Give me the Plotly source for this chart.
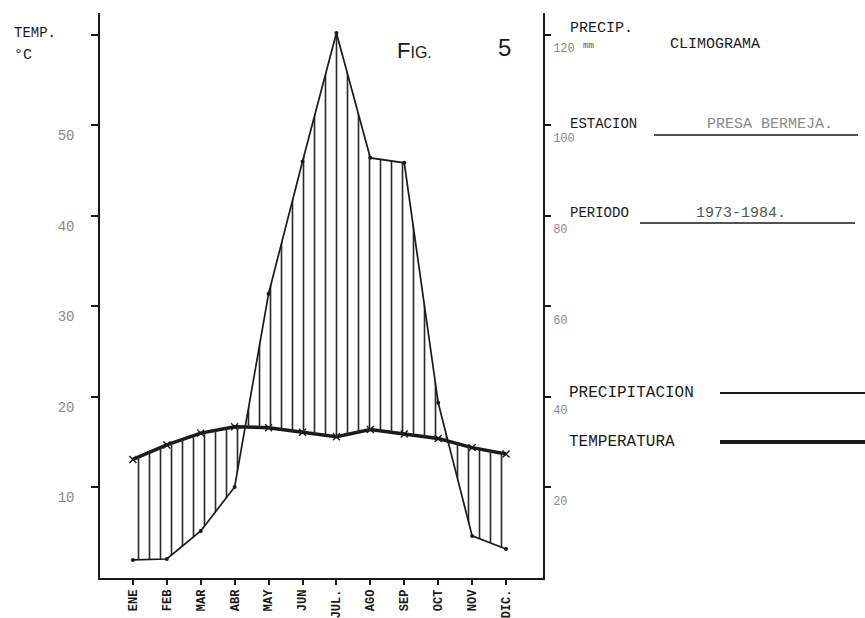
import plotly.graph_objects as go

# ---- data ----
months = ["ENE", "FEB", "MAR", "ABR", "MAY", "JUN", "JUL.", "AGO", "SEP", "OCT", "NOV", "DIC."]
temperature_c = [13.1, 14.7, 16.0, 16.7, 16.6, 16.1, 15.6, 16.4, 15.9, 15.4, 14.4, 13.7]
precip_mm = [4.0, 4.2, 10.4, 20.1, 62.8, 92.0, 120.4, 92.8, 91.7, 38.7, 9.3, 6.4]
temp_ticks = [10, 20, 30, 40, 50, 60]
temp_ticktext = ["10", "20", "30", "40", "50", ""]
precip_ticks = [20, 40, 60, 80, 100, 120]
precip_ticktext = ["20", "40", "60", "80", "100", "120"]

W, H = 865, 618
L, R, T, B = 100, 543, 13, 578
TMAX = 62.4

def px(x):
    return (x - L) / (R - L)

def py(y):
    return (B - y) / (B - T)

MONO = "Liberation Mono"
INK = "#1a1a1a"
FAINT = "#8a8a8a"

fig = go.Figure()

# hidden baseline (temperature in precip units, P = 2T) for the hatched fill
fig.add_trace(go.Scatter(
    x=months, y=[2 * t for t in temperature_c], yaxis="y2",
    mode="lines", line=dict(width=0, color="rgba(0,0,0,0)"),
    showlegend=False, hoverinfo="skip"))

fig.add_trace(go.Scatter(
    x=months, y=precip_mm, yaxis="y2", name="PRECIPITACION",
    mode="lines+markers", fill="tonexty",
    fillcolor="rgba(0,0,0,0)",
    fillpattern=dict(shape="|", size=11, solidity=0.15,
                     fgcolor="#2a2a2a", bgcolor="rgba(0,0,0,0)", fillmode="replace"),
    line=dict(color=INK, width=1.7),
    marker=dict(symbol="circle", size=4, color=INK),
    showlegend=False))

fig.add_trace(go.Scatter(
    x=months, y=temperature_c, yaxis="y", name="TEMPERATURA",
    mode="lines+markers",
    line=dict(color=INK, width=3.5),
    marker=dict(symbol="x-thin", size=7, line=dict(width=1.4, color=INK)),
    showlegend=False))

fig.update_layout(
    width=W, height=H,
    margin=dict(l=L, r=W - R, t=T, b=H - B, autoexpand=False),
    paper_bgcolor="white", plot_bgcolor="white",
    font=dict(family=MONO, color=INK),
    xaxis=dict(
        type="category", range=[-0.97, 12.09], automargin=False,
        showline=True, linecolor=INK, linewidth=1.5,
        ticks="outside", ticklen=5, tickcolor=INK, tickwidth=1.5,
        tickangle=-90, tickfont=dict(family=MONO, size=12, color=INK, weight="bold"),
        showgrid=False, zeroline=False),
    yaxis=dict(
        range=[0, TMAX], tickvals=temp_ticks, ticktext=temp_ticktext, automargin=False,
        showline=True, linecolor=INK, linewidth=1.5,
        ticks="outside", ticklen=7, tickcolor=INK, tickwidth=1.5,
        tickfont=dict(family=MONO, size=14, color=FAINT),
        ticklabelshift=10, ticklabelstandoff=14,
        showgrid=False, zeroline=False),
    yaxis2=dict(
        range=[0, 2 * TMAX], overlaying="y", side="right", automargin=False,
        tickvals=precip_ticks, ticktext=precip_ticktext,
        showline=True, linecolor=INK, linewidth=1.5,
        ticks="outside", ticklen=6, tickcolor=INK, tickwidth=1.5,
        tickfont=dict(family=MONO, size=12, color=FAINT),
        ticklabelshift=13, ticklabelstandoff=0,
        showgrid=False, zeroline=False),
)

def note(text, x, y, size=13, color=INK, xanchor="left", family=MONO):
    fig.add_annotation(text=text, x=px(x), y=py(y), xref="paper", yref="paper",
                       xanchor=xanchor, yanchor="middle", showarrow=False,
                       font=dict(family=family, size=size, color=color))

def hline(x0, x1, y, width):
    fig.add_shape(type="line", xref="paper", yref="paper",
                  x0=px(x0), x1=px(x1), y0=py(y), y1=py(y),
                  line=dict(color=INK, width=width))

# axis titles
note("TEMP.", 12, 33, size=14)
note("°C", 12, 55, size=15)
note("PRECIP.", 568, 28, size=15)
note("mm", 581, 46, size=9, color="#555555")

# figure label
note("F<span style='font-size:16px'>IG.</span>", 395, 50, size=22, family="Liberation Sans")
note("5", 496, 48, size=24, family="Liberation Sans")

# header block
note("CLIMOGRAMA", 668, 44, size=15)
note("ESTACION", 568, 124, size=14)
hline(654, 858, 135, 1.6)
note("PRESA BERMEJA.", 705, 124, size=15, color=FAINT)
note("PERIODO", 568, 213, size=14)
hline(640, 855, 223, 1.6)
note("1973-1984.", 694, 213, size=15, color="#555555")

# legend
note("PRECIPITACION", 567, 393, size=16)
hline(720, 865, 393, 1.8)
note("TEMPERATURA", 567, 442, size=16)
hline(720, 865, 442, 4)

fig.write_html("out.html")
